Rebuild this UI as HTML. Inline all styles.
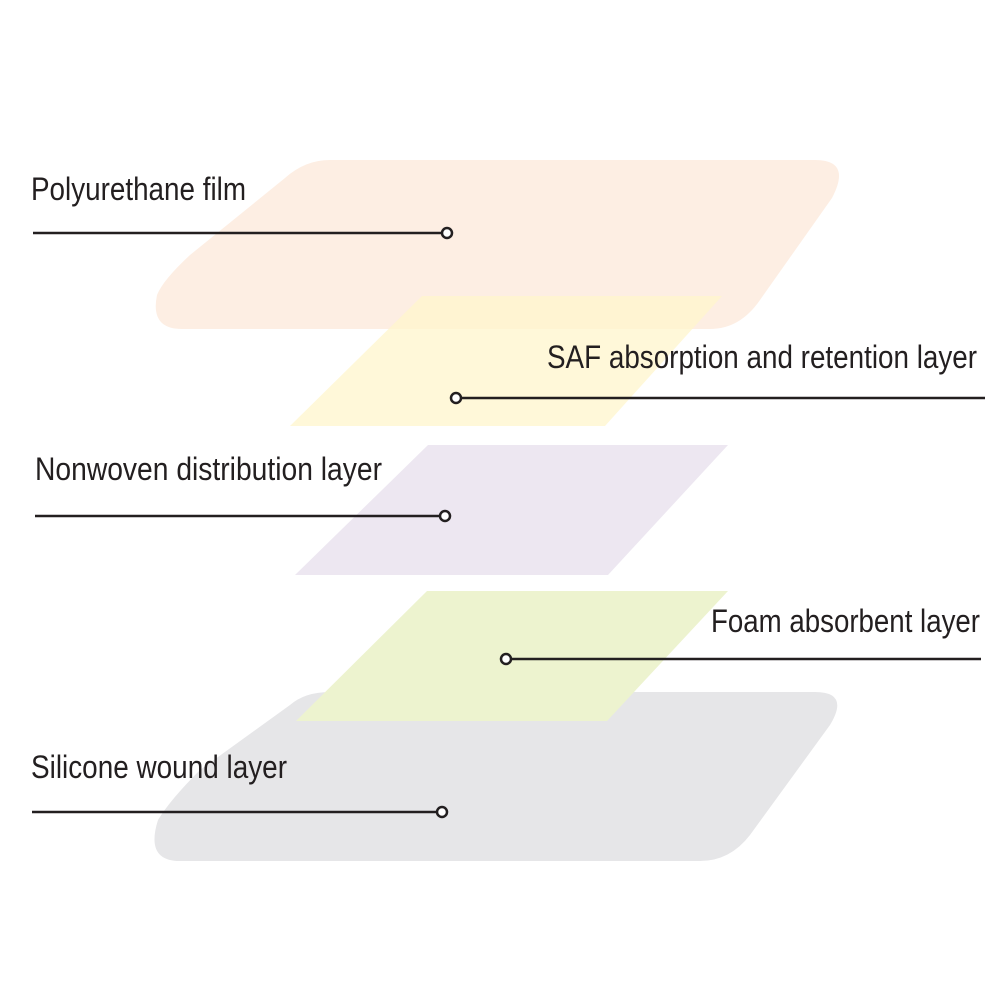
<!DOCTYPE html>
<html><head><meta charset="utf-8"><style>html,body{margin:0;padding:0;background:#fff}svg{display:block}</style></head>
<body>
<svg width="1000" height="1000" viewBox="0 0 1000 1000" xmlns="http://www.w3.org/2000/svg">
<rect width="1000" height="1000" fill="#fff"/>
<path d="M330 692 L815 692 Q850 692 830 725 L750 835 Q730 861 700 861 L180 861 Q145 861 158 820 Q170 800 200 770 L290 705 Q305 692 330 692 Z" fill="#e6e6e8"/>
<path d="M330 160 L815 160 Q852 160 832 198 L760 300 Q740 329 710 329 L182 329 Q150 329 157 295 Q163 280 190 255 L285 178 Q305 160 330 160 Z" fill="#fdeee3"/>
<polygon points="422,296 722,296 605,426 290,426" fill="#fff6cc" opacity="0.75"/>
<polygon points="428,445 728,445 608,575 295,575" fill="#ede7f1"/>
<polygon points="427,591 728,591 607,721 296,721" fill="#edf3cf"/>
<g stroke="#231f20" stroke-width="2.5" fill="none">
<line x1="33" y1="233" x2="442" y2="233"/><circle cx="447" cy="233" r="5" fill="#fff"/>
<line x1="461" y1="398" x2="985" y2="398"/><circle cx="456" cy="398" r="5" fill="#fff"/>
<line x1="35" y1="516" x2="440" y2="516"/><circle cx="445" cy="516" r="5" fill="#fff"/>
<line x1="511" y1="659" x2="981" y2="659"/><circle cx="506" cy="659" r="5" fill="#fff"/>
<line x1="32" y1="812" x2="437" y2="812"/><circle cx="442" cy="812" r="5" fill="#fff"/>
</g>
<g font-family="'Liberation Sans Narrow','Liberation Sans',sans-serif" font-size="32" fill="#231f20">
<text x="31" y="200" textLength="215" lengthAdjust="spacingAndGlyphs">Polyurethane film</text>
<text x="547" y="368" textLength="430" lengthAdjust="spacingAndGlyphs">SAF absorption and retention layer</text>
<text x="35" y="480" textLength="347" lengthAdjust="spacingAndGlyphs">Nonwoven distribution layer</text>
<text x="711" y="632" textLength="269" lengthAdjust="spacingAndGlyphs">Foam absorbent layer</text>
<text x="31" y="778" textLength="256" lengthAdjust="spacingAndGlyphs">Silicone wound layer</text>
</g>
</svg>
</body></html>
